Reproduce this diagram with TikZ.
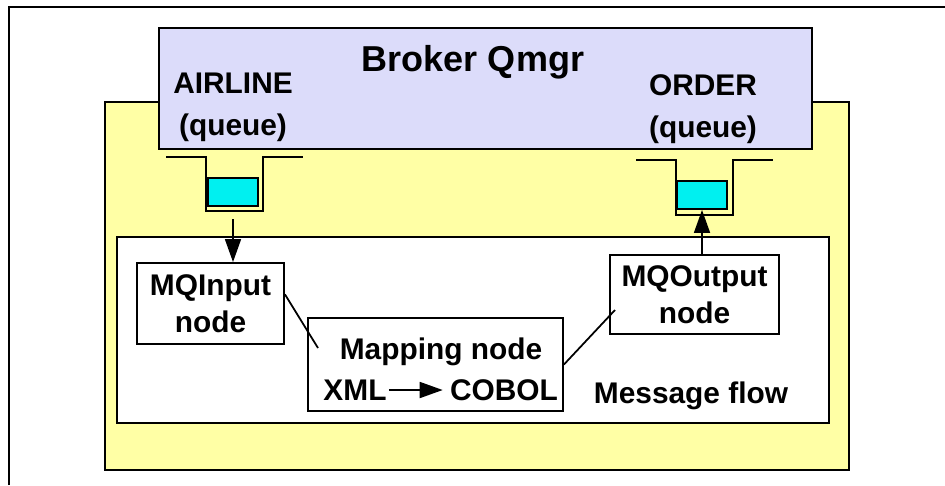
\documentclass[tikz,border=0pt]{standalone}
\usepackage{fontspec}
\setmainfont{Liberation Sans}
\usetikzlibrary{arrows.meta, positioning}

\definecolor{qmgrfill}{RGB}{220,220,250}
\definecolor{brokerfill}{RGB}{255,255,165}
\definecolor{msgfill}{RGB}{0,240,240}

\begin{document}
\begin{tikzpicture}[
    x=0.02cm, y=-0.02cm,
    box/.style={draw, line width=1.1pt, fill=white, inner sep=0pt},
    msg/.style={draw, line width=1.1pt, fill=msgfill, minimum width=1cm, minimum height=0.56cm, inner sep=0pt},
    lbl/.style={font=\bfseries\fontsize{17}{21}\selectfont, align=center, inner sep=0pt},
    link/.style={line width=1pt},
    flow/.style={line width=1pt, -{Triangle[length=4.6mm, width=3.2mm]}}
]
    \useasboundingbox (0,0) rectangle (945,485);

    % 1. Moldura externa
    \draw[line width=1pt] (9,485) -- (9,7) -- (945,7);

    % 2. Broker (fundo amarelo) e Qmgr
    \draw[line width=1.2pt, fill=brokerfill] (105,102) rectangle (849,470);
    \draw[line width=1.2pt, fill=qmgrfill] (159,28) rectangle (812,149);
    \node[lbl, font=\bfseries\fontsize{20.5}{24}\selectfont] (qmgr) at (473,62) {Broker Qmgr};
    \node[lbl, font=\bfseries\fontsize{17}{24}\selectfont] (airline) at (233,107) {AIRLINE\\(queue)};
    \node[lbl, font=\bfseries\fontsize{17}{24}\selectfont] (order) at (703,109) {ORDER\\(queue)};

    % 3. Filas
    \draw[line width=1.1pt] (166,157) -- (206,157) -- (206,211) -- (263,211) -- (263,157) -- (303,157);
    \node[msg] (msgA) at (233,192) {};
    \coordinate (qA) at (233,219);

    \draw[line width=1.1pt] (636,160) -- (676,160) -- (676,215) -- (733,215) -- (733,160) -- (773,160);
    \node[msg] (msgB) at (702,195) {};

    % 4. Message flow
    \draw[line width=1.2pt, fill=white] (117,237) rectangle (829,423);
    \node[lbl] (mflow) at (691,396) {Message flow};

    \node[box, minimum width=2.94cm, minimum height=1.62cm] (mqin) at (210.5,303.5) {};
    \node[lbl] at (mqin) {MQInput\\node};

    \node[box, minimum width=5.1cm, minimum height=1.86cm] (map) at (435.5,364.5) {};
    \node[lbl] (maptxt) at (441,352) {Mapping node};
    \node[lbl] (xml) at (355,390) {XML};
    \node[lbl] (cobol) at (504,390) {COBOL};

    \node[box, minimum width=3.38cm, minimum height=1.58cm] (mqout) at (694.5,294.5) {};
    \node[lbl] at (mqout) {MQOutput\\node};

    % 5. Conexoes
    \coordinate (mapin) at (318,348);
    \coordinate (mqoutin) at (615,310);
    \draw[link] (mqin.7) -- (mapin);
    \draw[link] (map.east) -- (mqoutin);
    \draw[flow] (xml.east) ++(2,0) -- ([xshift=-4]cobol.west);
    \draw[flow] (qA) -- (qA |- mqin.north);
    \draw[flow] (msgB |- mqout.north) -- (msgB.south);

\end{tikzpicture}
\end{document}
